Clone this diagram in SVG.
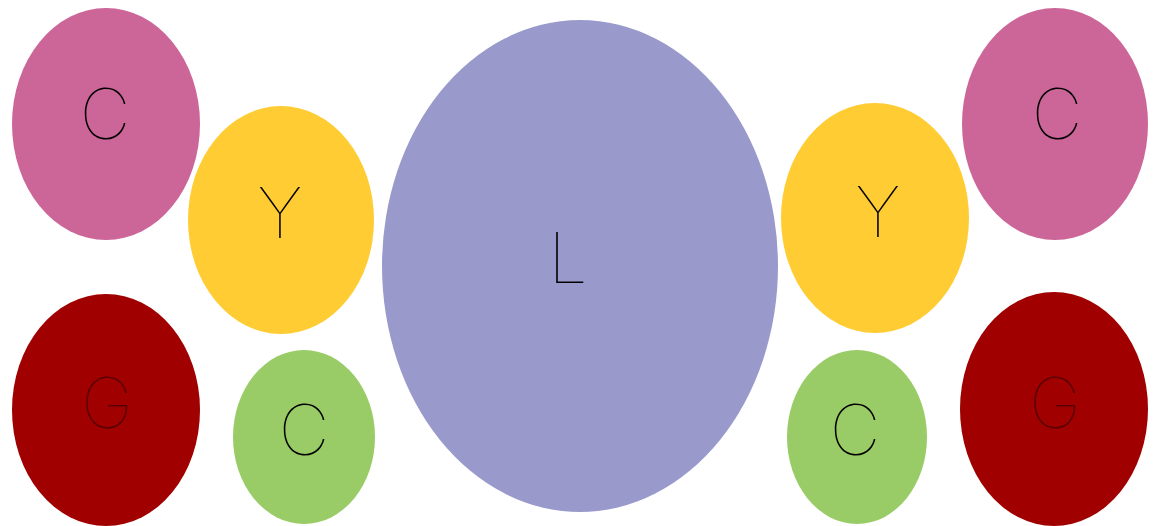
<svg xmlns="http://www.w3.org/2000/svg" width="1157" height="526" viewBox="0 0 1157 526">
<style>
.t{font-family:Inter,"Liberation Sans",sans-serif;font-weight:100;font-size:70px;text-anchor:middle;fill:#000}
.g{fill:#5a0000}
.pink{fill:#cc6699}.yel{fill:#ffcc33}.pur{fill:#9999cc}.red{fill:#a00000}.grn{fill:#99cc66}
</style>
<rect width="1157" height="526" fill="#fff"/>
<g id="connectors"/>
<g id="n-L"><ellipse class="pur" cx="580" cy="266" rx="198" ry="246"/><text class="t" x="568" y="283">L</text></g>
<g id="n-C1"><ellipse class="pink" cx="106" cy="124" rx="94" ry="116"/><text class="t" x="105" y="139">C</text></g>
<g id="n-Y1"><ellipse class="yel" cx="281" cy="220" rx="93" ry="114"/><text class="t" x="280" y="238">Y</text></g>
<g id="n-G1"><ellipse class="red" cx="106" cy="410" rx="94" ry="116"/><text class="t g" x="107" y="428">G</text></g>
<g id="n-C2"><ellipse class="grn" cx="304" cy="437" rx="71" ry="87"/><text class="t" x="304" y="455">C</text></g>
<g id="n-Y2"><ellipse class="yel" cx="875" cy="218" rx="94" ry="115"/><text class="t" x="878" y="237">Y</text></g>
<g id="n-C3"><ellipse class="pink" cx="1055" cy="124" rx="93" ry="116"/><text class="t" x="1057" y="139">C</text></g>
<g id="n-C4"><ellipse class="grn" cx="857" cy="437" rx="70" ry="87"/><text class="t" x="855" y="455">C</text></g>
<g id="n-G2"><ellipse class="red" cx="1054" cy="409" rx="94" ry="117"/><text class="t g" x="1055" y="428">G</text></g>
</svg>
